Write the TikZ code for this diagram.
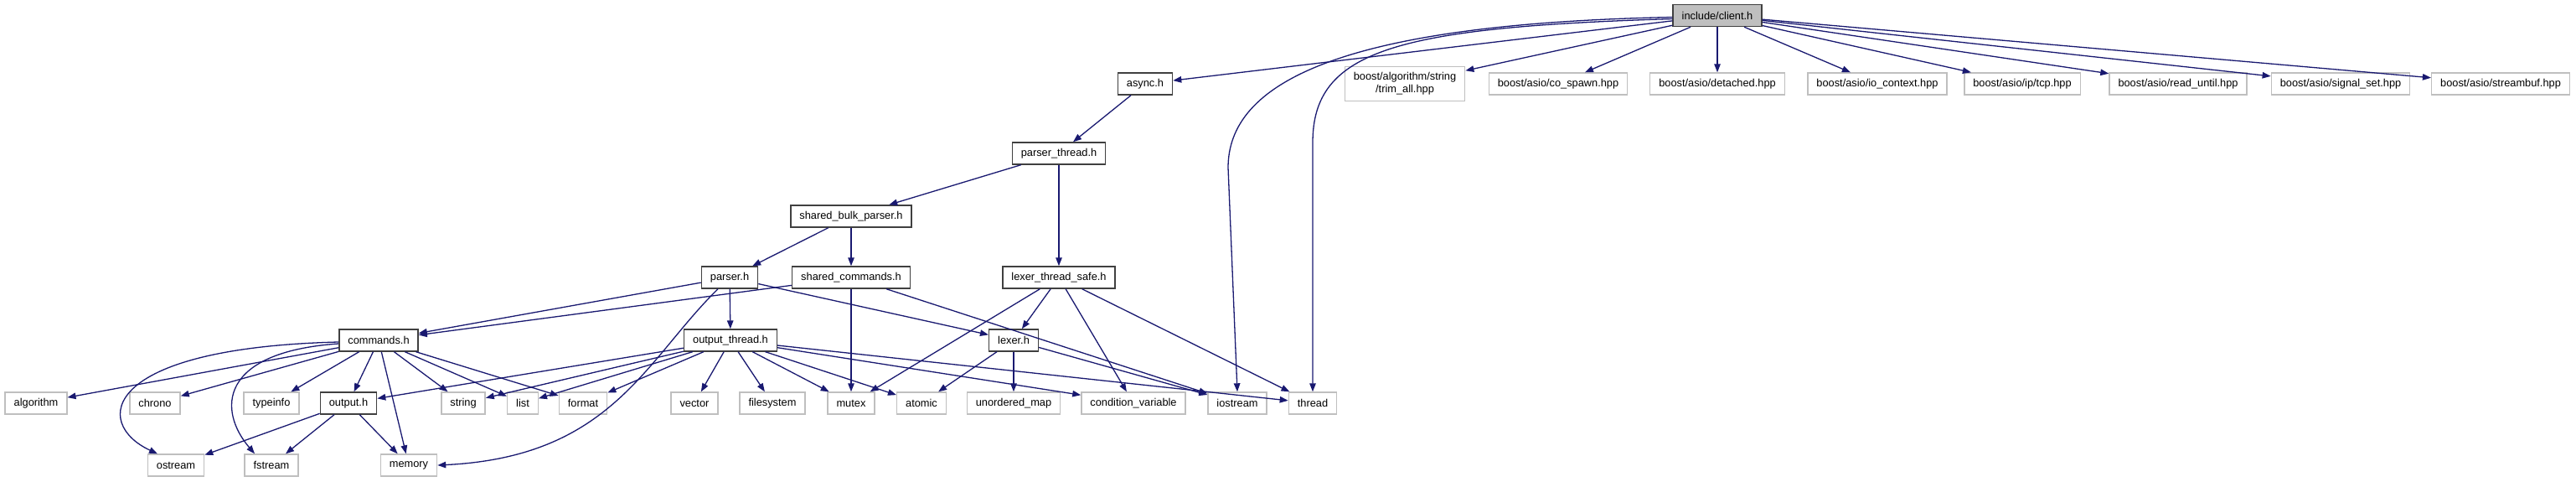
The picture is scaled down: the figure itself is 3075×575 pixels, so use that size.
\documentclass[tikz,border=0pt]{standalone}
\usepackage{fontspec}
\setmainfont{Liberation Sans}
\usepackage{tikz}
\usepackage{xcolor}
\usetikzlibrary{arrows.meta, positioning, calc}
\definecolor{cEdge}{RGB}{25,25,112}
\definecolor{cBorder}{RGB}{64,64,64}
\definecolor{cSys}{RGB}{191,191,191}
\tikzset{
	hdr/.style    ={rectangle, draw=cBorder, line width=1.4pt, fill=white, minimum height=26pt, inner xsep=10.5pt, inner ysep=0pt, text centered, align=center, font=\fontsize{12.8}{15}\selectfont},
	syshdr/.style ={hdr, draw=cSys},
	roothdr/.style={hdr, fill=cSys},
	incarrow/.style={-{Triangle[length=10pt, width=7.5pt]}, draw=cEdge, line width=1.3pt},
}

\begin{document}
\begin{tikzpicture}[x=1pt, y=1pt]
	\useasboundingbox (0,0) rectangle (3075,-575);
	% top level
	\node[roothdr] (client) at (2050,-18.5) {include/client.h};
	% row 1
	\node[hdr]    (async)    at (1367,-100) {async.h};
	\node[syshdr, minimum height=41pt] (trimall) at (1677,-100) {boost/algorithm/string\\/trim\_all.hpp};
	\node[syshdr] (cospawn)  at (1860,-100) {boost/asio/co\_spawn.hpp};
	\node[syshdr] (detached) at (2050,-100) {boost/asio/detached.hpp};
	\node[syshdr] (ioctx)    at (2241,-100) {boost/asio/io\_context.hpp};
	\node[syshdr] (iptcp)    at (2414,-100) {boost/asio/ip/tcp.hpp};
	\node[syshdr] (readutil) at (2600,-100) {boost/asio/read\_until.hpp};
	\node[syshdr] (sigset)   at (2794,-100) {boost/asio/signal\_set.hpp};
	\node[syshdr] (strmbuf)  at (2985,-100) {boost/asio/streambuf.hpp};
	% project headers
	\node[hdr] (pthread)  at (1264,-183) {parser\_thread.h};
	\node[hdr] (sbparser) at (1016,-258) {shared\_bulk\_parser.h};
	\node[hdr] (parser)   at (871,-331)  {parser.h};
	\node[hdr] (scmds)    at (1016,-331) {shared\_commands.h};
	\node[hdr] (lexts)    at (1264,-331) {lexer\_thread\_safe.h};
	\node[hdr] (cmds)     at (452,-406)  {commands.h};
	\node[hdr] (othread)  at (872,-406)  {output\_thread.h};
	\node[hdr] (lexer)    at (1210,-406) {lexer.h};
	% standard headers
	\node[syshdr] (algo)    at (43,-481)   {algorithm};
	\node[syshdr] (chrono)  at (185,-481)  {chrono};
	\node[syshdr] (tinfo)   at (324,-481)  {typeinfo};
	\node[hdr]    (output)  at (416,-481)  {output.h};
	\node[syshdr] (string)  at (553,-481)  {string};
	\node[syshdr] (list)    at (624,-481)  {list};
	\node[syshdr] (format)  at (696,-481)  {format};
	\node[syshdr] (vector)  at (829,-481)  {vector};
	\node[syshdr] (fsys)    at (922,-481)  {filesystem};
	\node[syshdr] (mutex)   at (1016,-481) {mutex};
	\node[syshdr] (atomic)  at (1100,-481) {atomic};
	\node[syshdr] (umap)    at (1210,-481) {unordered\_map};
	\node[syshdr] (condvar) at (1353,-481) {condition\_variable};
	\node[syshdr] (iostrm)  at (1477,-481) {iostream};
	\node[syshdr] (thread)  at (1567,-481) {thread};
	\node[syshdr] (ostrm)   at (210,-555)  {ostream};
	\node[syshdr] (fstrm)   at (324,-555)  {fstream};
	\node[syshdr] (memory)  at (488,-555)  {memory};
	% bends of the long curves
	\coordinate (ioturn) at (1466,-200);
	\coordinate (thturn) at (1567,-170);

	% edges from client.h
	\foreach \dst in {async, trimall, cospawn, detached, ioctx, iptcp, readutil, sigset, strmbuf}
		\draw[incarrow] (client) -- (\dst);
	\draw[incarrow] ([yshift=-2pt]client.west) .. controls +(-400,-8) and +(0,100) .. (ioturn) -- (iostrm.north);
	\draw[incarrow] ([yshift=-4pt]client.west) .. controls +(-330,-10) and +(0,110) .. (thturn) -- (thread.north);
	% project edges
	\draw[incarrow] (async) -- (pthread);
	\draw[incarrow] (pthread) -- (sbparser);
	\draw[incarrow] (pthread) -- (lexts);
	\draw[incarrow] (sbparser) -- (parser);
	\draw[incarrow] (sbparser) -- (scmds);
	\foreach \dst in {cmds, othread, lexer}
		\draw[incarrow] (parser) -- (\dst);
	\draw[incarrow] ([xshift=-14pt]parser.south) .. controls (770,-430) and (730,-545) .. (memory.east);
	\foreach \dst in {cmds, mutex, iostrm}
		\draw[incarrow] (scmds) -- (\dst);
	\foreach \dst in {lexer, mutex, condvar, thread}
		\draw[incarrow] (lexts) -- (\dst);
	\foreach \dst in {algo, chrono, tinfo, output, string, list, format, memory}
		\draw[incarrow] (cmds) -- (\dst);
	\draw[incarrow] ([yshift=-2pt]cmds.west) .. controls (120,-415) and (110,-505) .. ([xshift=-22pt]ostrm.north);
	\draw[incarrow] ([yshift=-4pt]cmds.west) .. controls (260,-420) and (260,-490) .. ([xshift=-20pt]fstrm.north);
	\foreach \dst in {ostrm, fstrm, memory}
		\draw[incarrow] (output) -- (\dst);
	\foreach \dst in {output, string, list, format, vector, fsys, mutex, atomic, condvar, thread}
		\draw[incarrow] (othread) -- (\dst);
	\foreach \dst in {umap, atomic, iostrm}
		\draw[incarrow] (lexer) -- (\dst);
\end{tikzpicture}
\end{document}
